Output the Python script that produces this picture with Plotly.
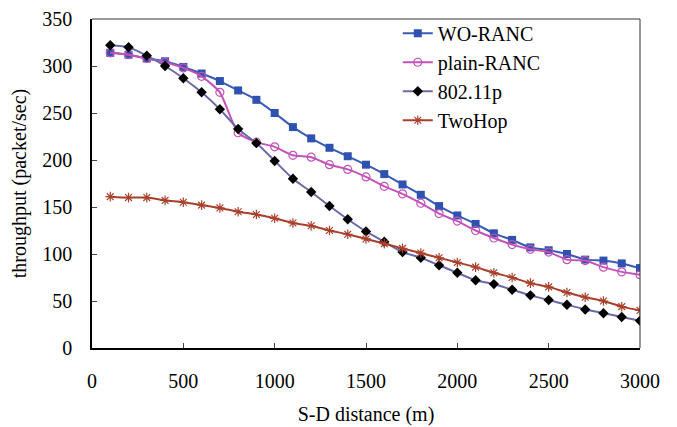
import plotly.graph_objects as go

distance = [100, 200, 300, 400, 500, 600, 700, 800, 900, 1000,
            1100, 1200, 1300, 1400, 1500, 1600, 1700, 1800, 1900, 2000,
            2100, 2200, 2300, 2400, 2500, 2600, 2700, 2800, 2900, 3000]

wo_ranc = [314, 312, 308, 305, 299, 292, 284, 274, 264, 250,
           235, 223, 213, 204, 195, 185, 174, 163, 151, 141,
           132, 122, 115, 107, 104, 100, 94, 93, 90, 85]

plain_ranc = [314, 312, 308, 304, 298, 289, 272, 229, 219, 214,
              205, 203, 195, 190, 182, 172, 164, 154, 143, 135,
              125, 117, 110, 105, 102, 94, 93, 86, 81, 78]

p80211 = [322, 320, 311, 300, 287, 272, 254, 233, 218, 199,
          180, 166, 151, 137, 124, 113, 102, 96, 88, 80,
          72, 68, 62, 56, 51, 46, 41, 37, 33, 29]

twohop = [161, 160, 160, 157, 155, 152, 149, 145, 142, 138,
          133, 130, 125, 121, 116, 111, 106, 101, 96, 91,
          86, 80, 75, 69, 65, 59, 54, 50, 44, 40]

x_ticks = [0, 500, 1000, 1500, 2000, 2500, 3000]
y_ticks = [0, 50, 100, 150, 200, 250, 300, 350]

FONT = "Liberation Serif"

series = [
    ("WO-RANC", wo_ranc, "#3A5BB5", dict(symbol="square", size=8, color="#2F52B0")),
    ("plain-RANC", plain_ranc, "#C353B8", dict(symbol="circle-open", size=8, color="#C353B8", line=dict(width=1.2, color="#C353B8"))),
    ("802.11p", p80211, "#6A6AA8", dict(symbol="diamond", size=8, color="#000000")),
    ("TwoHop", twohop, "#A8402C", dict(symbol="asterisk-open", size=8, color="#A8402C", line=dict(width=1.2, color="#A8402C"))),
]

fig = go.Figure()
for name, vals, lc, mk in series:
    fig.add_trace(go.Scatter(
        x=distance, y=vals, name=name, mode="lines+markers",
        line=dict(color=lc, width=2, shape="spline", smoothing=0.6),
        marker=mk,
    ))

fig.update_layout(
    width=669, height=419,
    margin=dict(l=84, r=37, t=11, b=79, autoexpand=False),
    paper_bgcolor="white", plot_bgcolor="white",
    font=dict(family=FONT, size=20, color="black"),
    showlegend=True,
    legend=dict(x=0.558, y=1.016, xanchor="left", yanchor="top",
                bgcolor="rgba(0,0,0,0)", font=dict(family=FONT, size=20),
                tracegroupgap=0, itemwidth=30),
    xaxis=dict(range=[0, 3000], tickvals=x_ticks, ticks="inside", ticklen=5,
               tickcolor="#444", showgrid=False, zeroline=False,
               showline=True, linecolor="black", linewidth=1.5, mirror=False,
               ticklabelstandoff=14,
               title=dict(text="S-D distance (m)", font=dict(family=FONT, size=20), standoff=16),
               tickfont=dict(family=FONT, size=20)),
    yaxis=dict(range=[0, 350], tickvals=y_ticks, ticks="inside", ticklen=5,
               tickcolor="#444", showgrid=False, zeroline=False,
               showline=True, linecolor="black", linewidth=1.5,
               ticklabelstandoff=14,
               title=dict(text="throughput (packet/sec)", font=dict(family=FONT, size=20), standoff=12),
               tickfont=dict(family=FONT, size=20)),
    shapes=[
        dict(type="line", xref="paper", yref="paper", x0=0, x1=1, y0=1, y1=1,
             line=dict(color="#333", width=1)),
        dict(type="line", xref="paper", yref="paper", x0=1, x1=1, y0=0, y1=1,
             line=dict(color="#333", width=1)),
    ],
)

fig.write_html("out.html")
